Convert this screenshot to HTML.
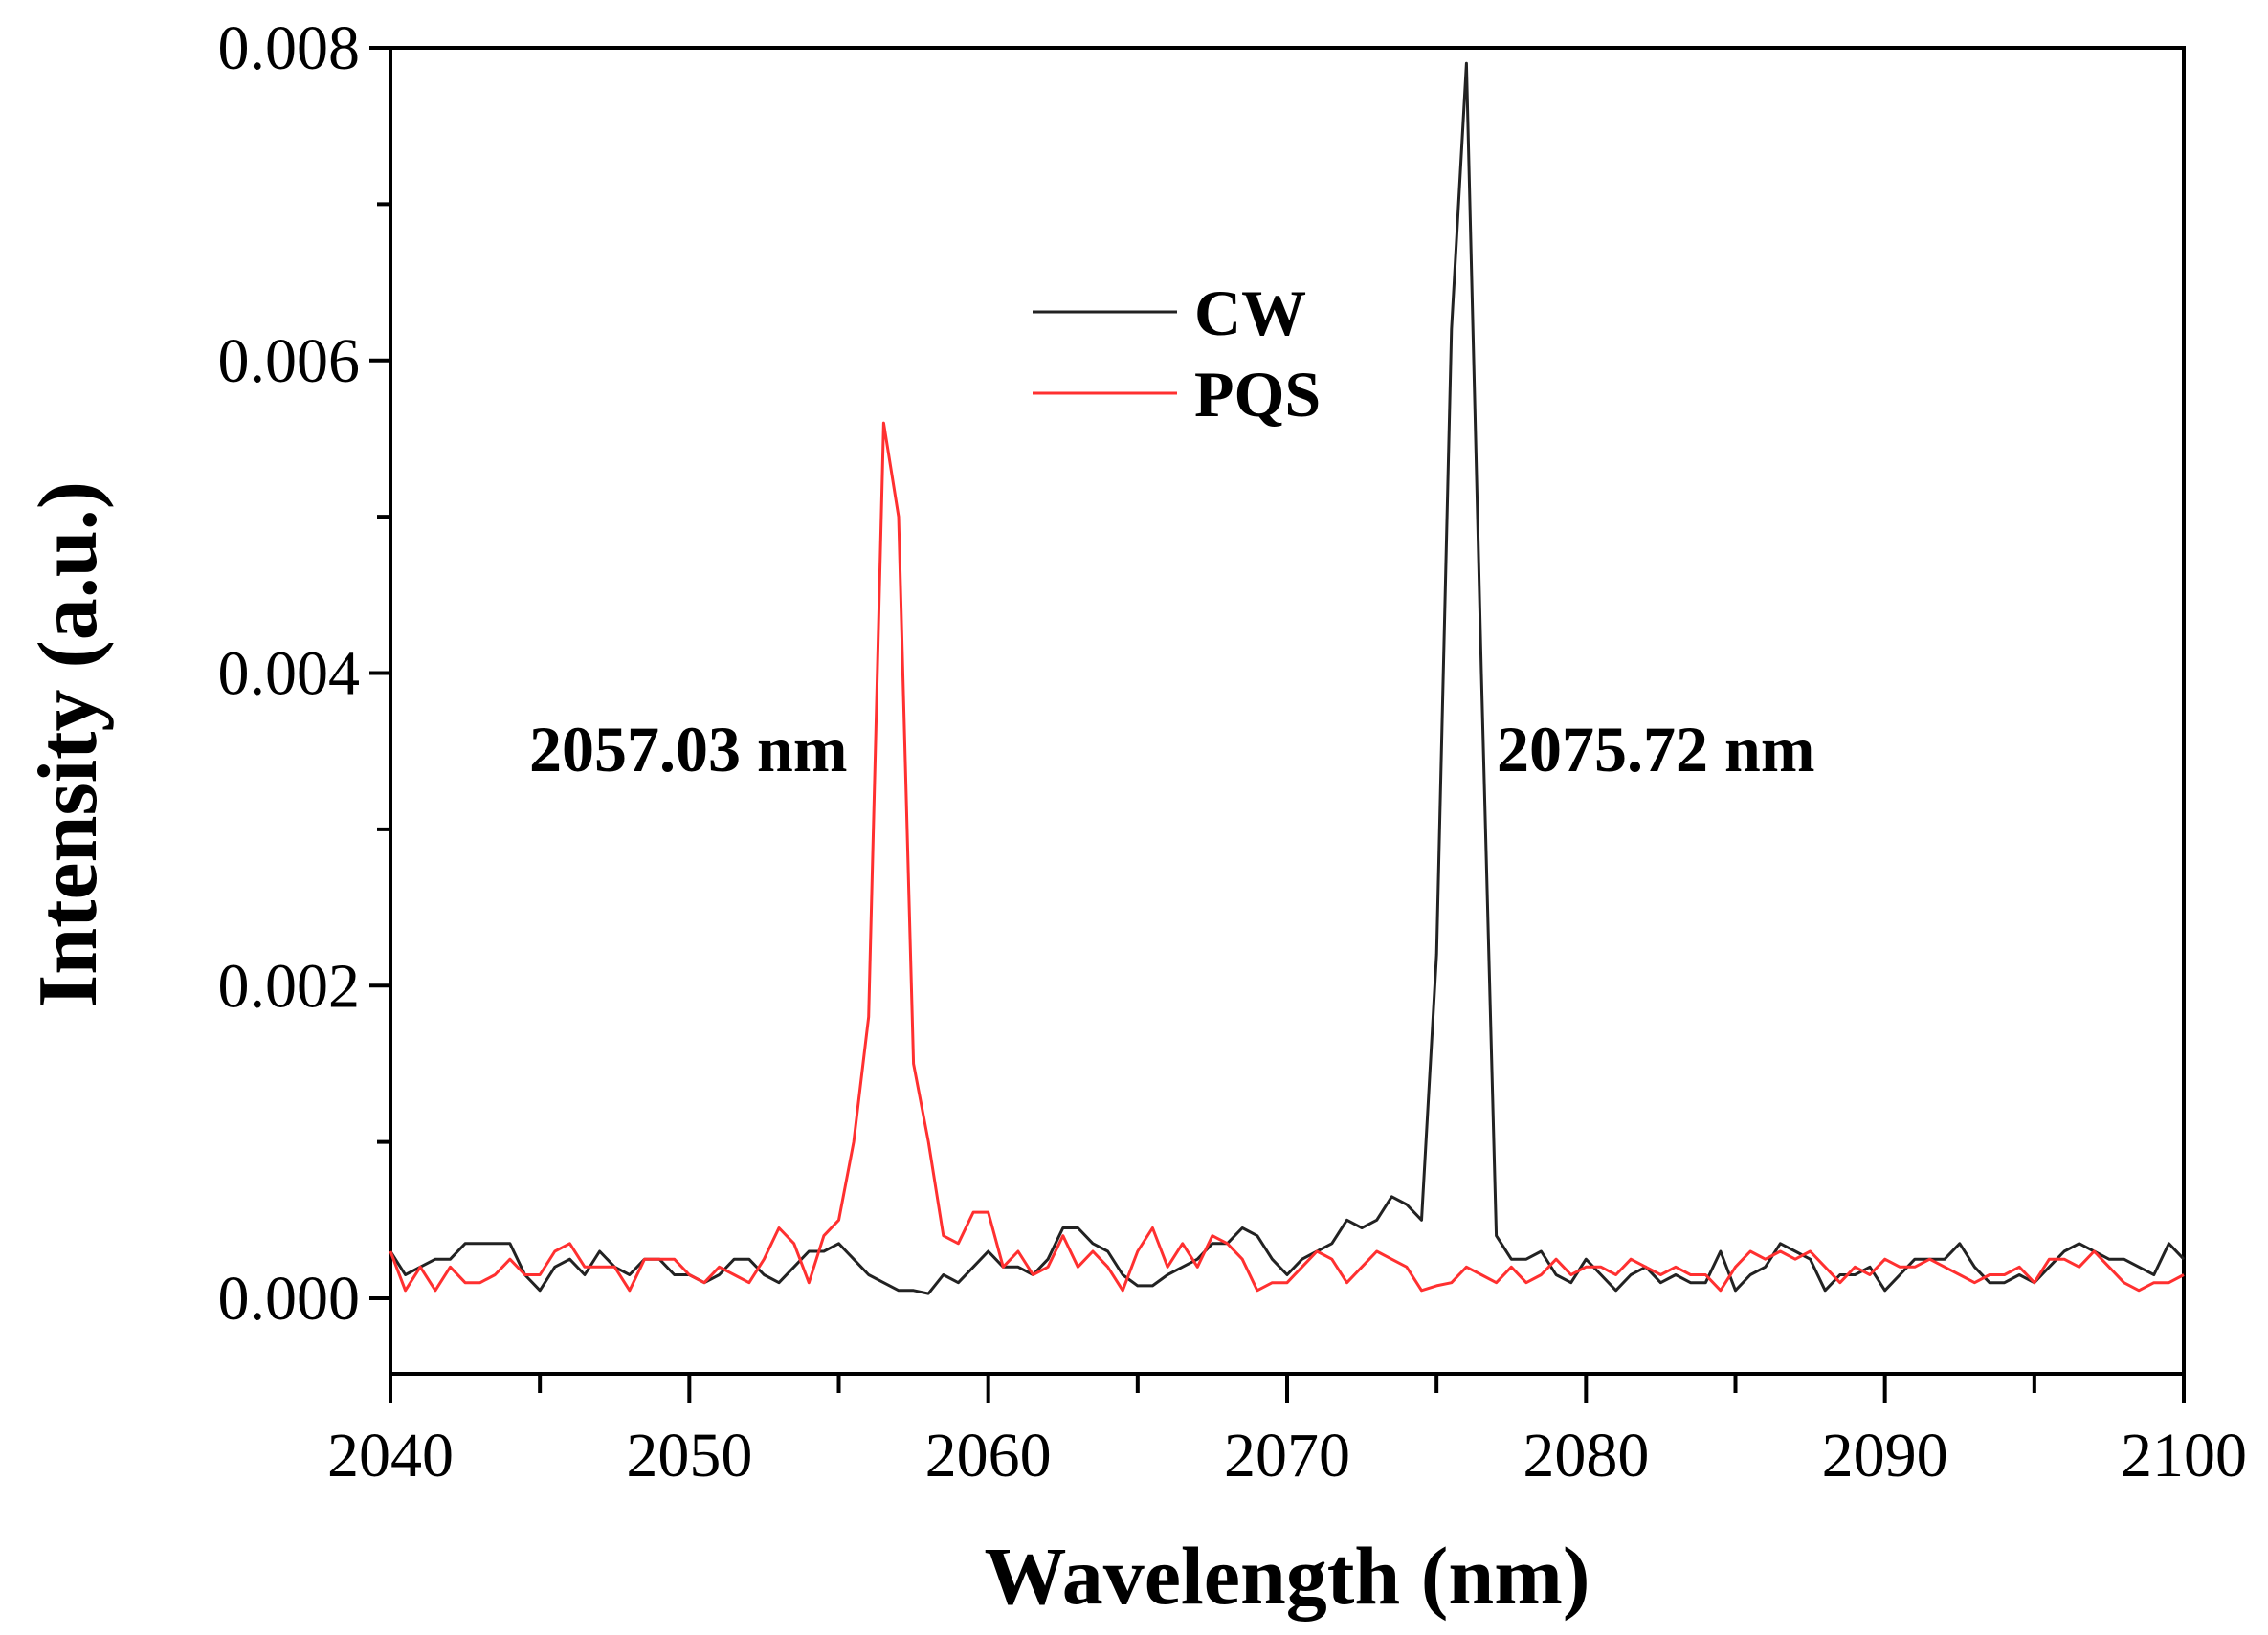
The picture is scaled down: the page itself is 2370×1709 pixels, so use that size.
<!DOCTYPE html>
<html><head><meta charset="utf-8"><style>
html,body{margin:0;padding:0;background:#fff;}
svg{display:block;}
text{font-family:"Liberation Serif",serif;fill:#000;}
</style></head><body>
<svg id="chart" width="2370" height="1709" viewBox="0 0 2370 1709" xmlns="http://www.w3.org/2000/svg">
<rect x="408" y="50" width="1874" height="1386" fill="none" stroke="#000" stroke-width="4"/>
<g id="axes"></g>
<g id="series"></g>
<g>
<line x1="1079" y1="326" x2="1230" y2="326" stroke="#222" stroke-width="3"/>
<text x="1248" y="350" font-size="68" font-weight="bold">CW</text>
<line x1="1079" y1="411" x2="1230" y2="411" stroke="#ff3030" stroke-width="3"/>
<text x="1248" y="435" font-size="68" font-weight="bold">PQS</text>
</g>
<text x="553" y="806" font-size="68" font-weight="bold">2057.03 nm</text>
<text x="1564" y="806" font-size="68" font-weight="bold">2075.72 nm</text>
<text x="1345" y="1676" font-size="86" font-weight="bold" text-anchor="middle">Wavelength (nm)</text>
<text transform="translate(100,778) rotate(-90)" font-size="88" font-weight="bold" text-anchor="middle">Intensity (a.u.)</text>
</svg>
<script>
const xTicks = [2040, 2050, 2060, 2070, 2080, 2090, 2100];
const yTicks = [0, 0.002, 0.004, 0.006, 0.008];
const yTickLabels = ["0.000", "0.002", "0.004", "0.006", "0.008"];
const xStart = 2040;
const xStep = 0.5;
// intensities in units of 1e-4
const cwValues = [3,1.5,2,2.5,2.5,3.5,3.5,3.5,3.5,1.5,0.5,2,2.5,1.5,3,2,1.5,2.5,2.5,1.5,
1.5,1,1.5,2.5,2.5,1.5,1,2,3,3,3.5,2.5,1.5,1,0.5,0.5,0.3,1.5,1,2,
3,2,2,1.5,2.5,4.5,4.5,3.5,3,1.5,0.8,0.8,1.5,2,2.5,3.5,3.5,4.5,4,2.5,
1.5,2.5,3,3.5,5,4.5,5,6.5,6,5,22,62,79,40,4,2.5,2.5,3,1.5,1,
2.5,1.5,0.5,1.5,2,1,1.5,1,1,3,0.5,1.5,2,3.5,3,2.5,0.5,1.5,1.5,2,
0.5,1.5,2.5,2.5,2.5,3.5,2,1,1,1.5,1,2,3,3.5,3,2.5,2.5,2,1.5,3.5,2.5];
const pqsValues = [3,0.5,2,0.5,2,1,1,1.5,2.5,1.5,1.5,3,3.5,2,2,2,0.5,2.5,2.5,2.5,
1.5,1,2,1.5,1,2.5,4.5,3.5,1,4,5,10,18,56,50,15,10,4,3.5,5.5,
5.5,2,3,1.5,2,4,2,3,2,0.5,3,4.5,2,3.5,2,4,3.5,2.5,0.5,1,
1,2,3,2.5,1,2,3,2.5,2,0.5,0.8,1,2,1.5,1,2,1,1.5,2.5,1.5,
2,2,1.5,2.5,2,1.5,2,1.5,1.5,0.5,2,3,2.5,3,2.5,3,2,1,2,1.5,
2.5,2,2,2.5,2,1.5,1,1.5,1.5,2,1,2.5,2.5,2,3,2,1,0.5,1,1,1.5];

const NS = "http://www.w3.org/2000/svg";
const X0 = 408, X1 = 2282, Y0 = 1357, Y8 = 50;
function sx(v){ return X0 + (v - 2040) / 60 * (X1 - X0); }
function sy(v){ return Y0 - v / 0.008 * (Y0 - Y8); }
function mk(tag, attrs, parent){
  const e = document.createElementNS(NS, tag);
  for (const k in attrs) e.setAttribute(k, attrs[k]);
  parent.appendChild(e);
  return e;
}
const axes = document.getElementById('axes');
xTicks.forEach((t, i) => {
  const l = mk('line', {x1: sx(t), x2: sx(t), y1: 1436, y2: 1466, stroke: '#000', 'stroke-width': 4}, axes);
  
  
  const tx = mk('text', {x: sx(t), y: 1543, 'font-size': 66, 'text-anchor': 'middle'}, axes);
  tx.textContent = t;
  
  
  if (i < xTicks.length - 1) {
    const m = t + 5;
    const ml = mk('line', {x1: sx(m), x2: sx(m), y1: 1436, y2: 1456, stroke: '#000', 'stroke-width': 4}, axes);
    
    
  }
});
yTicks.forEach((t, i) => {
  const l = mk('line', {x1: 386, x2: 408, y1: sy(t), y2: sy(t), stroke: '#000', 'stroke-width': 4}, axes);
  
  
  const tx = mk('text', {x: 376, y: sy(t) + 22, 'font-size': 66, 'text-anchor': 'end'}, axes);
  tx.textContent = yTickLabels[i];
  
  
  if (i < yTicks.length - 1) {
    const m = t + 0.001;
    const ml = mk('line', {x1: 394, x2: 408, y1: sy(m), y2: sy(m), stroke: '#000', 'stroke-width': 4}, axes);
    
    
  }
});
const series = document.getElementById('series');
function drawSeries(vals, color, name){
  const pts = vals.map((v, i) => sx(xStart + i * xStep).toFixed(1) + ',' + sy(v * 1e-4).toFixed(1)).join(' ');
  const p = mk('polyline', {points: pts, fill: 'none', stroke: color, 'stroke-width': 3, 'stroke-linejoin': 'round'}, series);
  
  
}
drawSeries(cwValues, '#222', 'series-cw-line');
drawSeries(pqsValues, '#ff3030', 'series-pqs-line');
</script>
</body></html>
